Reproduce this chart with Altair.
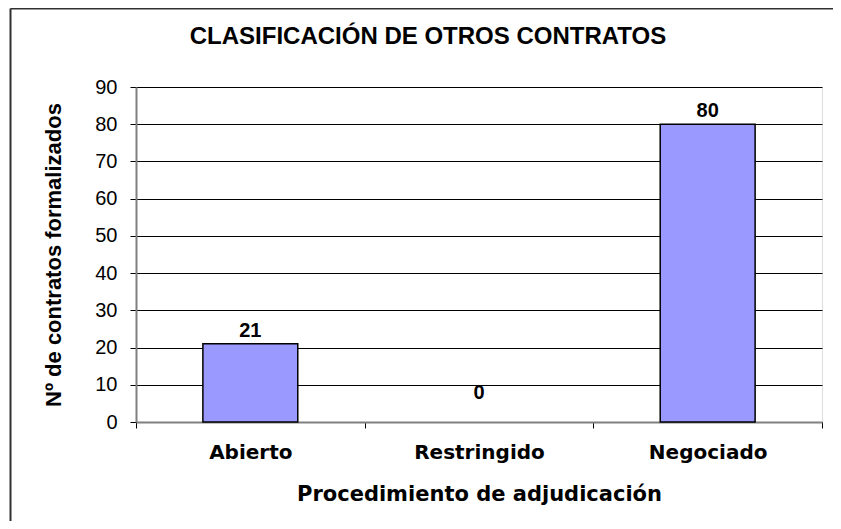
import altair as alt
import pandas as pd

categories = ["Abierto", "Restringido", "Negociado"]
values = [21, 0, 80]
y_ticks = [0, 10, 20, 30, 40, 50, 60, 70, 80, 90]
chart_title = "CLASIFICACIÓN DE OTROS CONTRATOS"

df = pd.DataFrame({"cat": categories, "val": values})

W, H = 686, 335
PAD = {"left": 128, "top": 79, "right": 11, "bottom": 99}

x_enc = alt.X(
    "cat:N",
    sort=categories,
    scale=alt.Scale(paddingInner=0, paddingOuter=0),
    axis=alt.Axis(
        title="Procedimiento de adjudicación",
        labelAngle=0,
        tickBand="extent",
        domainColor="#808080",
        domainWidth=2,
        tickColor="black",
        tickSize=6,
        tickWidth=1,
        labelFont="DejaVu Sans",
        labelFontWeight="bold",
        labelFontSize=20,
        labelColor="black",
        labelPadding=14,
        titleFont="DejaVu Sans",
        titleFontWeight="bold",
        titleFontSize=21,
        titleColor="black",
        titlePadding=21,
        grid=False,
    ),
)
y_enc = alt.Y(
    "val:Q",
    scale=alt.Scale(domain=[0, 90], nice=False),
    axis=alt.Axis(
        title="Nº de contratos formalizados",
        values=y_ticks,
        labelOverlap=False,
        grid=True,
        gridColor="black",
        gridWidth=1,
        domainColor="#808080",
        domainWidth=2,
        tickColor="black",
        tickSize=6,
        labelFont="Liberation Sans",
        labelFontSize=20,
        labelColor="black",
        labelPadding=13,
        titleFont="Liberation Sans",
        titleFontWeight="bold",
        titleFontSize=22,
        titleColor="black",
        titlePadding=29,
    ),
)

base = alt.Chart(df)

bars = base.mark_bar(
    color="#9999FF", strokeWidth=1.5, width=alt.RelativeBandSize(0.415)
).encode(
    x=x_enc,
    y=y_enc,
    stroke=alt.condition(alt.datum.val > 0, alt.value("black"), alt.value("transparent")),
)

labels_pos = base.transform_filter(alt.datum.val > 0).mark_text(
    baseline="bottom", dy=-3, font="Liberation Sans", fontWeight="bold", fontSize=20, color="black"
).encode(x=x_enc, y=y_enc, text="val:Q")

labels_zero = base.transform_filter(alt.datum.val == 0).mark_text(
    baseline="bottom", dy=-19, font="Liberation Sans", fontWeight="bold", fontSize=20, color="black"
).encode(x=x_enc, y=y_enc, text="val:Q")

one = alt.Data(values=[{}])

frame_left = alt.Chart(one).mark_rule(color="#303030", strokeWidth=2).encode(
    x=alt.value(-125.5), y=alt.value(-78.5), y2=alt.value(H + PAD["bottom"])
)
frame_top = alt.Chart(one).mark_rule(color="#303030", strokeWidth=2).encode(
    x=alt.value(-125.5), x2=alt.value(W + PAD["right"]), y=alt.value(-78.5)
)

title_mark = alt.Chart(one).mark_text(
    text=chart_title, font="Liberation Sans", fontSize=24, fontWeight="bold",
    color="black", align="center", baseline="alphabetic"
).encode(x=alt.value(W / 2 - 51), y=alt.value(-43))

chart = alt.layer(bars, labels_pos, labels_zero, frame_left, frame_top, title_mark).properties(
    width=W,
    height=H,
    autosize="none",
    padding=PAD,
).configure_view(
    stroke="#808080", strokeWidth=2
).configure(background="white")

chart.save("out.html", embed_options={"renderer": "svg", "actions": False})
